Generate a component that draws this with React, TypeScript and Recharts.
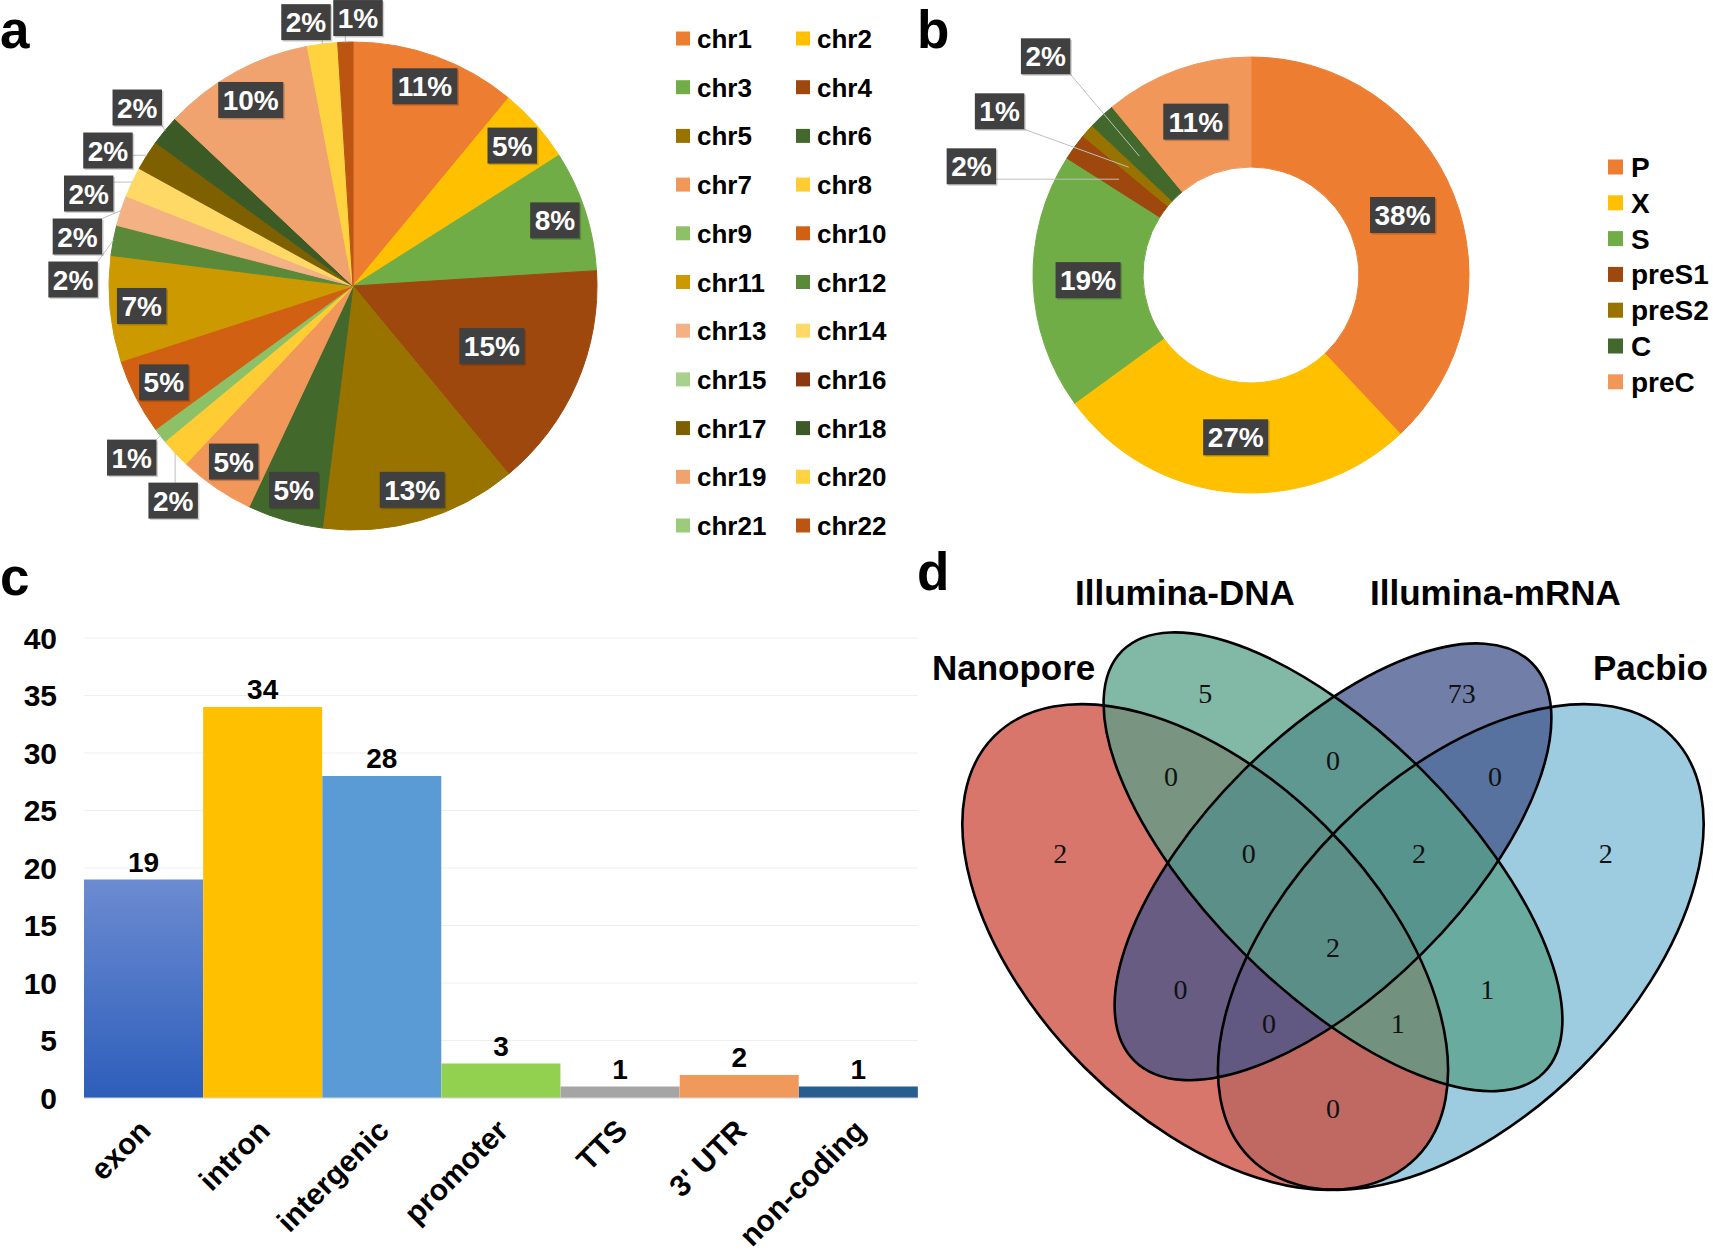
import React from "react";
import {
  Bar,
  BarChart,
  CartesianGrid,
  Cell,
  LabelList,
  Pie,
  PieChart,
  Scatter,
  ScatterChart,
  XAxis,
  YAxis,
} from "recharts";

const SANS = '"Liberation Sans", Arial, Helvetica, sans-serif';
const SERIF = '"Liberation Serif", "Times New Roman", serif';

// --- a: integration sites per chromosome (%) ---
const chromosomes = [
  "chr1", "chr2", "chr3", "chr4", "chr5", "chr6", "chr7", "chr8", "chr9", "chr10", "chr11",
  "chr12", "chr13", "chr14", "chr15", "chr16", "chr17", "chr18", "chr19", "chr20", "chr21", "chr22",
];
const chromosomeShares = [11, 5, 8, 15, 13, 5, 5, 2, 1, 5, 7, 2, 2, 2, 0, 0, 2, 2, 10, 2, 0, 1];
const chromosomeColors = [
  "#ED7D31", "#FFC000", "#70AD47", "#9E480E", "#997300", "#43682B", "#F1975A", "#FFCD33",
  "#8CC168", "#D26012", "#CC9A00", "#5A8A39", "#F4B183", "#FFD966", "#A9D18E", "#8A3A0E",
  "#7F6000", "#3B5A26", "#F1A36F", "#FFD340", "#9CCB7C", "#BB5511",
];

// --- b: HBV genes hit by breakpoints (%) ---
const hbvGenes = ["P", "X", "S", "preS1", "preS2", "C", "preC"];
const hbvShares = [38, 27, 19, 2, 1, 2, 11];
const hbvColors = ["#ED7D31", "#FFC000", "#70AD47", "#9E480E", "#997300", "#43682B", "#F1975A"];

// --- c: genomic feature of the host site ---
const regionNames = ["exon", "intron", "intergenic", "promoter", "TTS", "3' UTR", "non-coding"];
const regionCounts = [19, 34, 28, 3, 1, 2, 1];
const regionColors = ["url(#exonFill)", "#FFC000", "#5B9BD5", "#92D050", "#A5A5A5", "#F0995A", "#265E90"];
const countTicks = [0, 5, 10, 15, 20, 25, 30, 35, 40];

// --- d: overlap between platforms ---
const vennSets = ["Nanopore", "Illumina-DNA", "Illumina-mRNA", "Pacbio"];
const vennRegions = ["N", "D", "M", "P", "ND", "DM", "MP", "NDM", "DMP", "NM", "DP", "NDMP", "NMP", "NDP", "NP"];
const vennCounts = [2, 5, 73, 2, 0, 0, 0, 0, 2, 0, 1, 2, 0, 1, 0];

// quad template (same geometry as R VennDiagram), unit coords with y up
const VENN_ELLIPSES = [
  { x: 0.35, y: 0.47, a: 0.35, b: 0.2, rot: 135, color: "#CC483A" },
  { x: 0.5, y: 0.57, a: 0.35, b: 0.15, rot: 135, color: "#58A088" },
  { x: 0.5, y: 0.57, a: 0.33, b: 0.15, rot: 45, color: "#42548B" },
  { x: 0.65, y: 0.47, a: 0.35, b: 0.2, rot: 45, color: "#7CBAD6" },
];
const VENN_ALPHA = 0.75;
const VENN_DRAW_ORDER = [3, 0, 2, 1];
const VENN_LABEL_AT: Record<string, [number, number]> = {
  N: [0.18, 0.58], D: [0.35, 0.768], M: [0.651, 0.768], P: [0.82, 0.58],
  ND: [0.31, 0.67], DM: [0.5, 0.689], MP: [0.69, 0.67],
  NDM: [0.401, 0.58], DMP: [0.601, 0.58], NM: [0.321, 0.421], DP: [0.681, 0.421],
  NDMP: [0.5, 0.47], NMP: [0.425, 0.38], NDP: [0.576, 0.38], NP: [0.5, 0.281],
};
const VENN_TITLE_AT: [number, number][] = [
  [0.0293, 0.7834], [0.1972, 0.8714], [0.5434, 0.8714], [0.8052, 0.7834],
];
const VENN_PX = 852; // px per unit
const VENN_BOX = { left: 910, top: 560, width: 803, height: 690 };
const VENN_ANCHOR = { px: 1333, py: 947, ux: 0.5, uy: 0.47 };

// ---------- percentage label boxes ----------
const BOX_FONT = 28;
const BOX_H = 36;

function textWidth(s: string, size: number) {
  let w = 0;
  for (const ch of s) w += ch === "%" ? 0.889 : 0.556;
  return w * size;
}

function pctBox(x: number, y: number, text: string) {
  const w = textWidth(text, BOX_FONT) + 9;
  return (
    <g>
      <rect x={x - w / 2 + 1.5} y={y - BOX_H / 2 + 1.5} width={w} height={BOX_H} fill="#000" opacity={0.18} />
      <rect x={x - w / 2} y={y - BOX_H / 2} width={w} height={BOX_H} fill="#404040" />
      <text
        x={x}
        y={y}
        dy="0.36em"
        textAnchor="middle"
        fill="#fff"
        fontSize={BOX_FONT}
        fontWeight="bold"
        fontFamily={SANS}
      >
        {text}
      </text>
    </g>
  );
}

/** Push small-slice labels outside the pie and spread them so they don't collide. */
function outsidePlacement(
  values: number[],
  isSmall: (v: number) => boolean,
  sideDist: number,
  endDist: number,
  gapY: number,
  gapX: number,
) {
  const total = values.reduce((s, v) => s + v, 0);
  let acc = 0;
  const items: { i: number; dx: number; dy: number; s: number; c: number }[] = [];
  values.forEach((v, i) => {
    const mid = ((acc + v / 2) / total) * 2 * Math.PI;
    acc += v;
    if (v > 0 && isSmall(v)) {
      items.push({ i, dx: 0, dy: 0, s: Math.sin(mid), c: Math.cos(mid) });
    }
  });
  const sides = items.filter((p) => Math.abs(p.s) >= 0.3);
  const ends = items.filter((p) => Math.abs(p.s) < 0.3);
  for (const side of [-1, 1]) {
    const g = sides
      .filter((p) => Math.sign(p.s) === side)
      .map((p) => Object.assign(p, { dx: p.s * sideDist, dy: -p.c * sideDist }))
      .sort((a, b) => a.dy - b.dy);
    for (let k = 1; k < g.length; k++) g[k].dy = Math.max(g[k].dy, g[k - 1].dy + gapY);
    g.forEach((p) => (p.dx = side * Math.sqrt(Math.max(sideDist * sideDist - p.dy * p.dy, 0))));
  }
  for (const vs of [-1, 1]) {
    const g = ends
      .filter((p) => Math.sign(-p.c) === vs)
      .map((p) => Object.assign(p, { dx: p.s * endDist, dy: -p.c * endDist }))
      .sort((a, b) => a.dx - b.dx);
    if (!g.length) continue;
    const before = g.reduce((s, p) => s + p.dx, 0) / g.length;
    for (let k = 1; k < g.length; k++) g[k].dx = Math.max(g[k].dx, g[k - 1].dx + gapX);
    const after = g.reduce((s, p) => s + p.dx, 0) / g.length;
    g.forEach((p) => {
      p.dx += before - after;
      p.dy = vs * Math.sqrt(Math.max(endDist * endDist - p.dx * p.dx, 0));
    });
  }
  const out = new Map<number, { dx: number; dy: number }>();
  items.forEach((p) => out.set(p.i, { dx: p.dx, dy: p.dy }));
  return out;
}

function pieLabel(cfg: {
  total: number;
  outside: Map<number, { dx: number; dy: number }>;
  insideR: (p: any) => number;
  leaderR: (p: any) => number;
}) {
  return (p: any) => {
    if (!p.value) return null;
    const text = `${Math.round((p.value / cfg.total) * 100)}%`;
    const rad = (-p.midAngle * Math.PI) / 180;
    const at = cfg.outside.get(p.index);
    if (!at) {
      const r = cfg.insideR(p);
      return pctBox(p.cx + Math.cos(rad) * r, p.cy + Math.sin(rad) * r, text);
    }
    const x = p.cx + at.dx;
    const y = p.cy + at.dy;
    const w = textWidth(text, BOX_FONT) + 9;
    const tx = p.cx + Math.cos(rad) * cfg.leaderR(p);
    const ty = p.cy + Math.sin(rad) * cfg.leaderR(p);
    const sx = Math.min(Math.max(tx, x - w / 2), x + w / 2);
    const sy = Math.min(Math.max(ty, y - BOX_H / 2), y + BOX_H / 2);
    return (
      <g>
        <line x1={sx} y1={sy} x2={tx} y2={ty} stroke="#BFBFBF" strokeWidth={1} />
        {pctBox(x, y, text)}
      </g>
    );
  };
}

// ---------- panel a ----------
const A_R = 244;
const chromosomeData = chromosomes.map((name, i) => ({ name, value: chromosomeShares[i] }));
const chromosomeTotal = chromosomeShares.reduce((s, v) => s + v, 0);
const chromosomeMax = Math.max(...chromosomeShares);
const chromosomeLabel = pieLabel({
  total: chromosomeTotal,
  outside: outsidePlacement(chromosomeShares, (v) => v <= 2, 280, 268, 43, 52),
  // Excel's best fit pulled the biggest slice's label in towards the centre
  insideR: (p) => (p.value === chromosomeMax ? 0.62 : 0.87) * p.outerRadius,
  leaderR: (p) => p.outerRadius,
});

// ---------- panel b ----------
const B_R = 218;
const B_IR = 108;
const hbvData = hbvGenes.map((name, i) => ({ name, value: hbvShares[i] }));
const hbvTotal = hbvShares.reduce((s, v) => s + v, 0);
const hbvLabel = pieLabel({
  total: hbvTotal,
  outside: outsidePlacement(hbvShares, (v) => v <= 2, 300, 300, 55, 52),
  insideR: (p) => (p.innerRadius + p.outerRadius) / 2,
  leaderR: (p) => (p.innerRadius + p.outerRadius) / 2,
});

// ---------- panel c ----------
const regionData = regionNames.map((name, i) => ({ name, count: regionCounts[i] }));

function CountTick({ y, payload }: any) {
  return (
    <text x={57} y={y} dy="0.36em" textAnchor="end" fontSize={30} fontWeight="bold" fontFamily={SANS} fill="#000">
      {payload.value}
    </text>
  );
}

function SlantTick({ x, payload }: any) {
  const ax = x + 1.5;
  const ay = 565;
  return (
    <text
      x={ax}
      y={ay}
      dy="0.35em"
      transform={`rotate(-45 ${ax} ${ay})`}
      textAnchor="end"
      fontSize={30}
      fontWeight="bold"
      fontFamily={SANS}
      fill="#000"
    >
      {payload.value}
    </text>
  );
}

// ---------- panel d ----------
const vennXDomain = [
  VENN_ANCHOR.ux + (VENN_BOX.left - VENN_ANCHOR.px) / VENN_PX,
  VENN_ANCHOR.ux + (VENN_BOX.left + VENN_BOX.width - VENN_ANCHOR.px) / VENN_PX,
];
const vennYDomain = [
  VENN_ANCHOR.uy - (VENN_BOX.top + VENN_BOX.height - VENN_ANCHOR.py) / VENN_PX,
  VENN_ANCHOR.uy + (VENN_ANCHOR.py - VENN_BOX.top) / VENN_PX,
];
const vennShapes = VENN_DRAW_ORDER.map((i) => ({ ...VENN_ELLIPSES[i], set: vennSets[i] }));
const vennCountData = vennRegions.map((k, i) => ({ x: VENN_LABEL_AT[k][0], y: VENN_LABEL_AT[k][1], count: vennCounts[i] }));
const vennTitleData = vennSets.map((set, i) => ({ x: VENN_TITLE_AT[i][0], y: VENN_TITLE_AT[i][1], set }));

function ellipseShape(filled: boolean) {
  return (p: any) => {
    const e = p.payload;
    return (
      <ellipse
        cx={p.cx}
        cy={p.cy}
        rx={e.a * VENN_PX}
        ry={e.b * VENN_PX}
        transform={`rotate(${-e.rot} ${p.cx} ${p.cy})`}
        fill={filled ? e.color : "none"}
        fillOpacity={filled ? VENN_ALPHA : 0}
        stroke={filled ? "none" : "#000"}
        strokeWidth={2.6}
      />
    );
  };
}

function CountShape(p: any) {
  return (
    <text x={p.cx} y={p.cy} dy="0.35em" textAnchor="middle" fontSize={28} fontFamily={SERIF} fill="#111">
      {p.payload.count}
    </text>
  );
}

function TitleShape(p: any) {
  return (
    <text x={p.cx} y={p.cy} textAnchor="start" fontSize={35} fontWeight="bold" fontFamily={SANS} fill="#000">
      {p.payload.set}
    </text>
  );
}

const abs = (left: number, top: number): React.CSSProperties => ({ position: "absolute", left, top });

export default function App() {
  return (
    <div style={{ position: "absolute", left: 0, top: 0, width: 1713, height: 1251, background: "#fff", overflow: "hidden" }}>
      {/* a */}
      <div style={abs(0, 0)}>
        <PieChart width={660} height={560} margin={{ top: 0, right: 0, bottom: 0, left: 0 }}>
          <Pie
            data={chromosomeData}
            dataKey="value"
            nameKey="name"
            cx={353}
            cy={286}
            outerRadius={A_R}
            startAngle={90}
            endAngle={-270}
            label={chromosomeLabel}
            labelLine={false}
            isAnimationActive={false}
          >
            {chromosomeData.map((d, i) => (
              <Cell key={d.name} fill={chromosomeColors[i]} stroke={chromosomeColors[i]} strokeWidth={d.value ? 1 : 0} />
            ))}
          </Pie>
        </PieChart>
      </div>

      {/* b */}
      <div style={abs(880, 0)}>
        <PieChart width={660} height={560} margin={{ top: 0, right: 0, bottom: 0, left: 0 }}>
          <Pie
            data={hbvData}
            dataKey="value"
            nameKey="name"
            cx={371}
            cy={275}
            innerRadius={B_IR}
            outerRadius={B_R}
            startAngle={90}
            endAngle={-270}
            label={hbvLabel}
            labelLine={false}
            isAnimationActive={false}
          >
            {hbvData.map((d, i) => (
              <Cell key={d.name} fill={hbvColors[i]} stroke={hbvColors[i]} strokeWidth={1} />
            ))}
          </Pie>
        </PieChart>
      </div>

      {/* c */}
      <div style={abs(0, 560)}>
        <BarChart
          width={940}
          height={691}
          data={regionData}
          margin={{ top: 78, right: 22, bottom: 0, left: 0 }}
          barCategoryGap={0}
          barGap={0}
        >
          <defs>
            <linearGradient id="exonFill" x1="0" y1="0" x2="0" y2="1">
              <stop offset="0" stopColor="#6C8BD1" />
              <stop offset="1" stopColor="#2D5EBB" />
            </linearGradient>
          </defs>
          <CartesianGrid vertical={false} stroke="#EEEEEE" />
          <YAxis
            width={84}
            domain={[0, 40]}
            ticks={countTicks}
            axisLine={false}
            tickLine={false}
            tick={<CountTick />}
          />
          <XAxis
            dataKey="name"
            height={153}
            interval={0}
            tickLine={false}
            axisLine={{ stroke: "#D9D9D9" }}
            tick={<SlantTick />}
          />
          <Bar dataKey="count" isAnimationActive={false}>
            {regionData.map((d, i) => (
              <Cell key={d.name} fill={regionColors[i]} />
            ))}
            <LabelList
              dataKey="count"
              position="top"
              offset={8}
              fill="#000"
              fontSize={28}
              fontWeight="bold"
              fontFamily={SANS}
            />
          </Bar>
        </BarChart>
      </div>

      {/* d */}
      <div style={abs(VENN_BOX.left, VENN_BOX.top)}>
        <ScatterChart width={VENN_BOX.width} height={VENN_BOX.height} margin={{ top: 0, right: 0, bottom: 0, left: 0 }}>
          <XAxis type="number" dataKey="x" domain={vennXDomain} allowDataOverflow hide />
          <YAxis type="number" dataKey="y" domain={vennYDomain} allowDataOverflow hide />
          <Scatter data={vennShapes} shape={ellipseShape(true)} isAnimationActive={false} />
          <Scatter data={vennShapes} shape={ellipseShape(false)} isAnimationActive={false} />
          <Scatter data={vennCountData} shape={CountShape} isAnimationActive={false} />
          <Scatter data={vennTitleData} shape={TitleShape} isAnimationActive={false} />
        </ScatterChart>
      </div>

      {/* panel letters and legends */}
      <svg width={1713} height={1251} style={{ position: "absolute", left: 0, top: 0, pointerEvents: "none" }}>
        <g fontFamily={SANS} fontWeight="bold" fontSize={53} fill="#000">
          <text x={0} y={48}>a</text>
          <text x={917} y={48}>b</text>
          <text x={0} y={595}>c</text>
          <text x={917} y={590}>d</text>
        </g>
        <g fontFamily={SANS} fontWeight="bold" fontSize={26} fill="#000">
          {chromosomes.map((name, i) => {
            const col = i % 2;
            const row = Math.floor(i / 2);
            const cy = 38.5 + row * 48.7;
            const sx = col ? 796 : 676;
            return (
              <g key={name}>
                <rect x={sx} y={cy - 7} width={14} height={14} fill={chromosomeColors[i]} />
                <text x={sx + 21} y={cy + 9.5}>{name}</text>
              </g>
            );
          })}
        </g>
        <g fontFamily={SANS} fontWeight="bold" fontSize={28} fill="#000">
          {hbvGenes.map((name, i) => {
            const cy = 167 + i * 35.8;
            return (
              <g key={name}>
                <rect x={1608} y={cy - 7.5} width={15} height={15} fill={hbvColors[i]} />
                <text x={1631} y={cy + 10}>{name}</text>
              </g>
            );
          })}
        </g>
      </svg>
    </div>
  );
}
